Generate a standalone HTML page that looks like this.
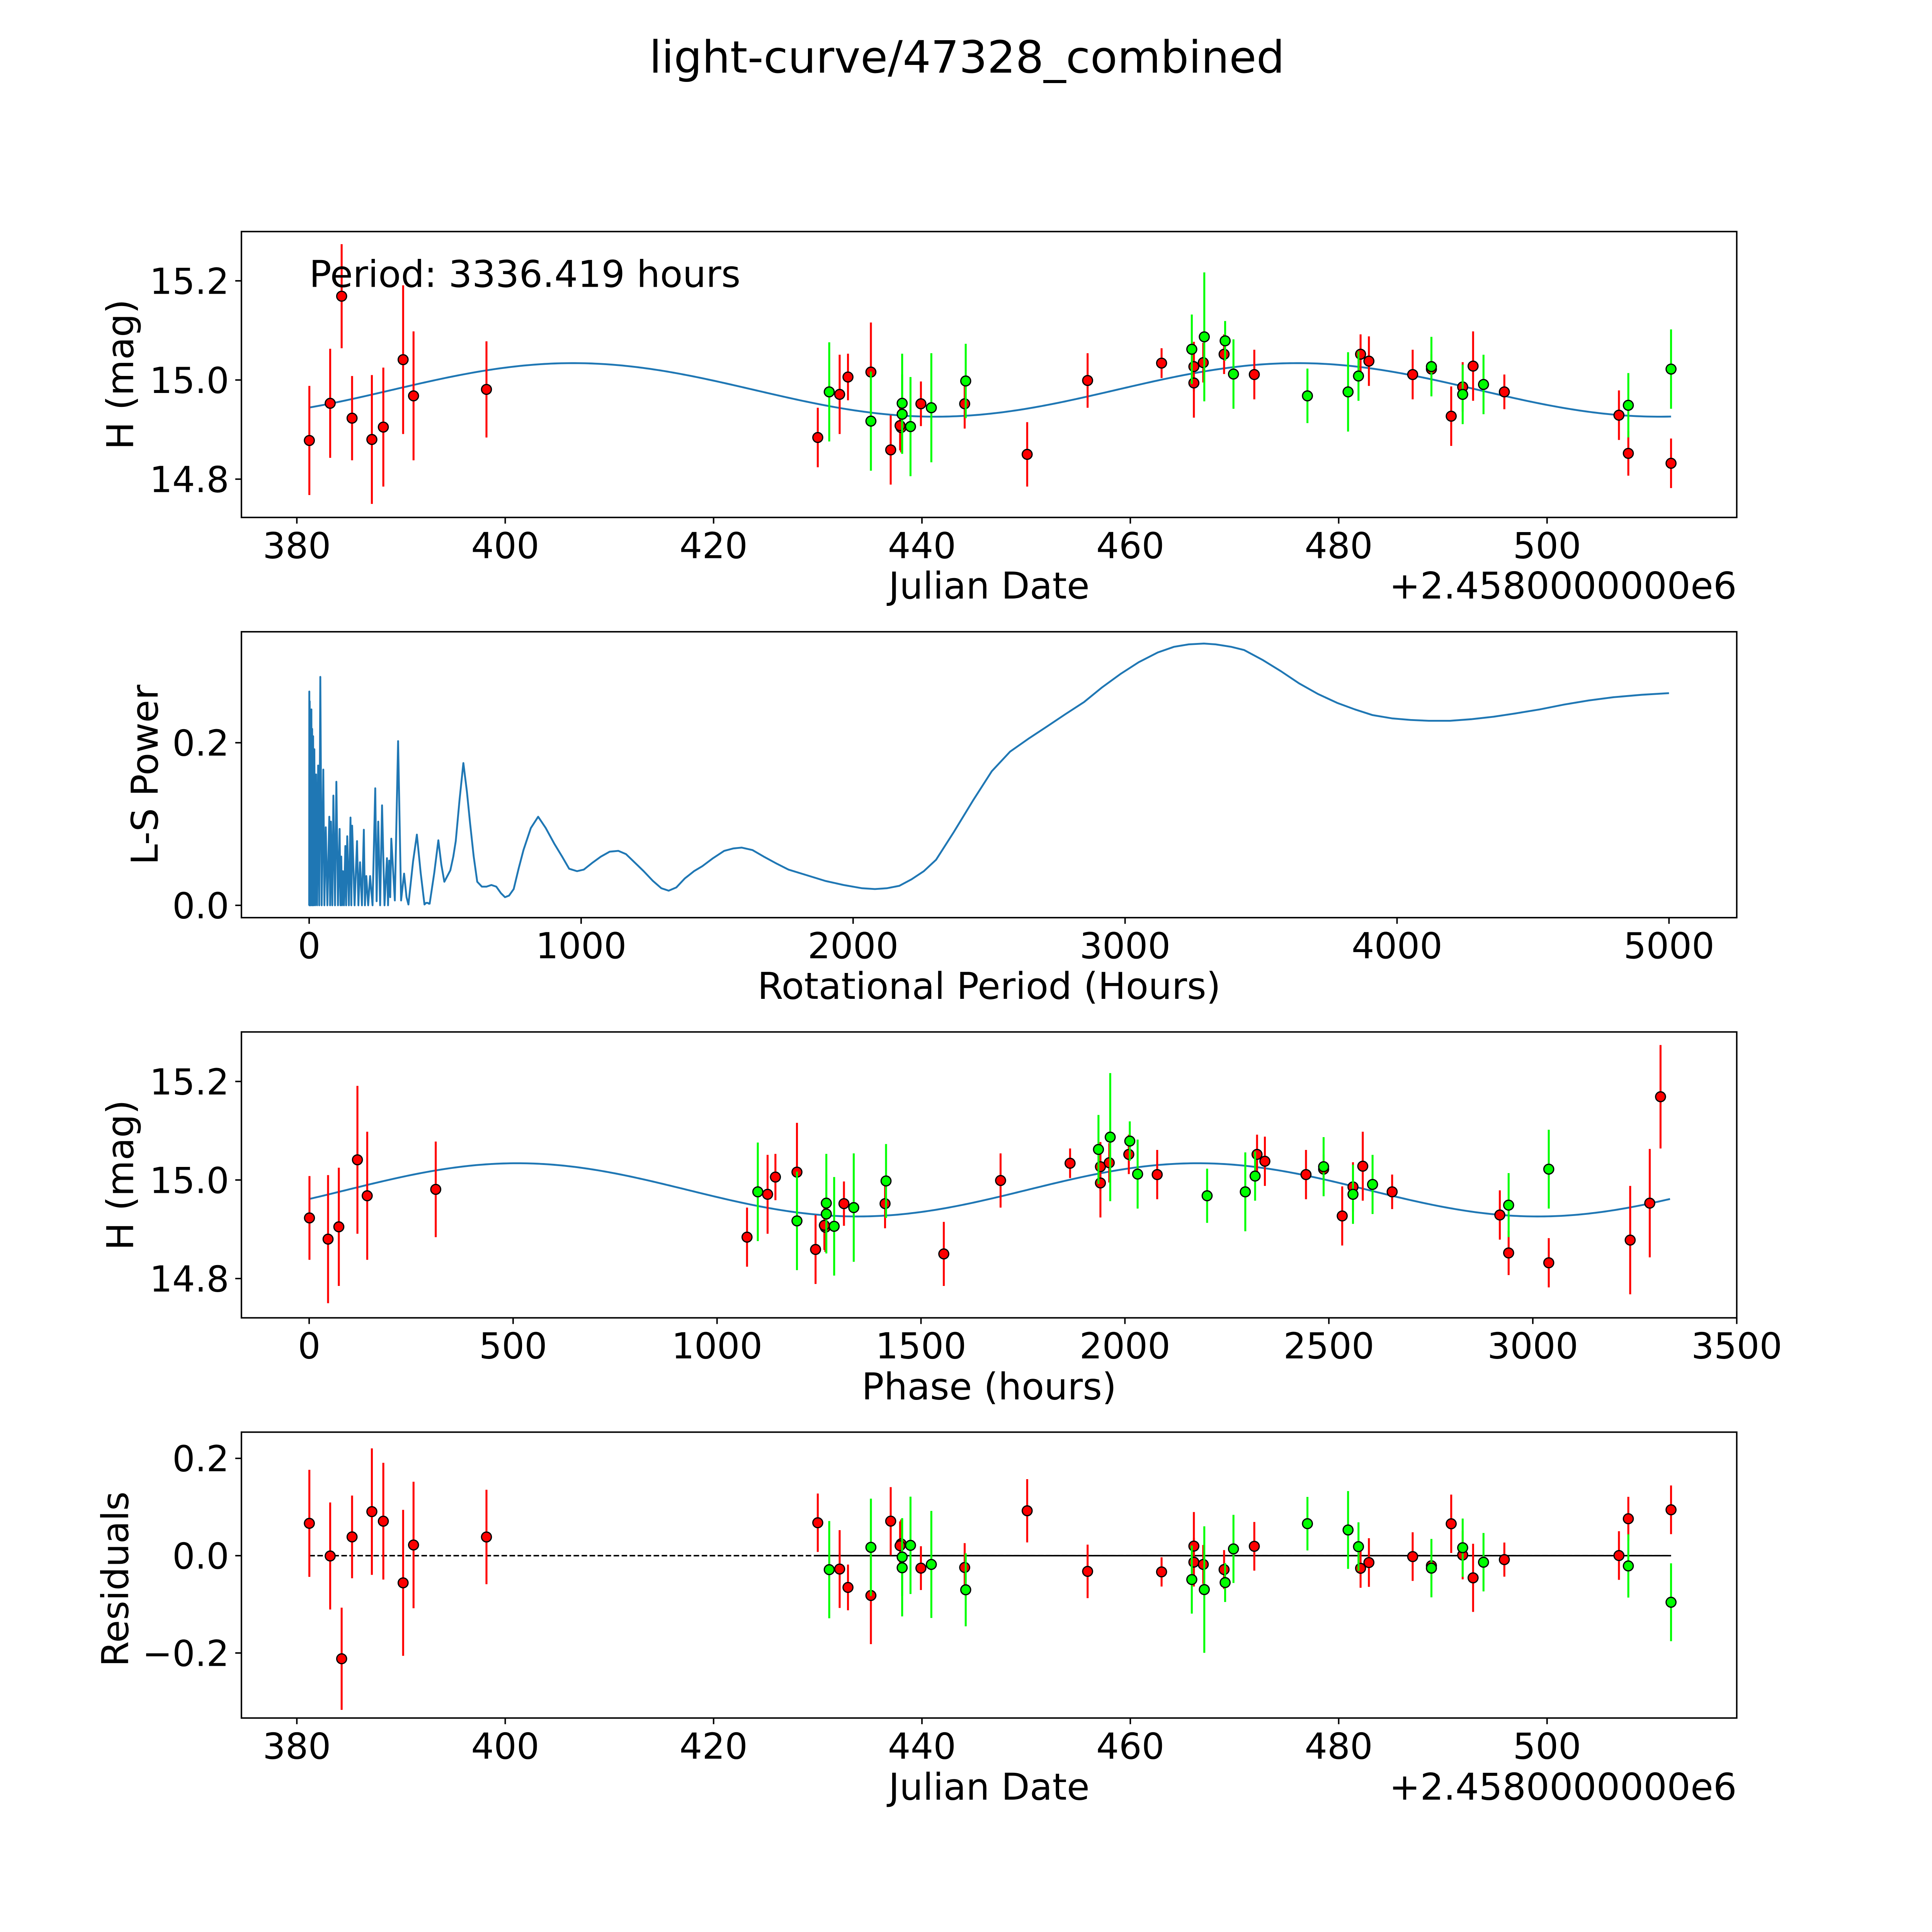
<!DOCTYPE html>
<html><head><meta charset="utf-8"><title>light-curve/47328_combined</title>
<style>
html,body{margin:0;padding:0;background:#fff;overflow:hidden;width:5400px;height:5400px;}
svg{display:block;}
text{font-family:"DejaVu Sans","Liberation Sans",sans-serif;fill:#000;}
</style></head>
<body>
<svg id="fig" xmlns="http://www.w3.org/2000/svg" width="5400" height="5400" viewBox="0 0 1694 1694">
<rect x="0" y="0" width="1694" height="1694" fill="#fff"/>
<text x="785" y="59" font-size="36" text-anchor="middle">light-curve/47328_combined</text>
</svg>
<script>
// ---- Data ----
const redJD  = [381.2,383.2,384.3,385.3,387.2,388.3,390.2,391.2,398.2,430.0,432.1,432.9,435.1,437.0,438.0,437.9,439.9,444.1,450.1,455.9,463.0,466.1,466.1,467.0,469.0,471.9,482.1,482.9,487.1,488.9,490.8,491.9,492.9,495.9,506.9,507.8,511.9];
const redMag = [14.878,14.953,15.169,14.923,14.880,14.905,15.041,14.968,14.981,14.884,14.971,15.006,15.016,14.859,14.904,14.908,14.952,14.952,14.850,14.999,15.034,15.027,14.994,15.035,15.052,15.011,15.052,15.038,15.011,15.022,14.927,14.986,15.028,14.976,14.929,14.852,14.832];
const redErr = [0.11,0.11,0.105,0.085,0.13,0.12,0.15,0.13,0.097,0.06,0.08,0.047,0.1,0.07,0.05,0.05,0.045,0.05,0.065,0.055,0.03,0.05,0.07,0.04,0.04,0.05,0.04,0.05,0.05,0.03,0.06,0.05,0.07,0.035,0.05,0.045,0.05];
const grnJD  = [431.1,435.1,438.1,438.1,438.9,440.9,444.2,465.9,467.1,469.1,469.9,477.0,480.9,481.9,488.9,491.9,493.9,507.8,511.9];
const grnMag = [14.976,14.917,14.953,14.931,14.906,14.944,14.998,15.062,15.087,15.079,15.012,14.968,14.976,15.008,15.027,14.971,14.991,14.949,15.022];
const grnErr = [0.1,0.1,0.1,0.08,0.1,0.11,0.075,0.07,0.13,0.04,0.07,0.055,0.08,0.05,0.06,0.06,0.06,0.065,0.08];
const periodHours = 3336.419;
const epochJD = 385.27;
const modelMean = 14.98;
const modelAmp = 0.054;
const modelPeakPhase = 510;
// Lomb-Scargle periodogram
const lsPeriod = [0,0.5,1,2,3,5,8.2,9.5,11,12.5,14.6,16.5,19,22,25.5,29,33,37,41,46,52,56,61,67,74,77,80,85,89,95,100,106,112,115,118,121,124,128,133,136,140,146,152,155,158,167,176,181,187,194,201,205,210,217,224,233,243,248,254,261,268,277,286,290,294,298,302,315,327,338,349,358,365,382,396,410,424,430,436,440,443,460,475,486,497,508,519,530,539,553,567,580,592,605,618,635,652,670,688,705,720,735,752,770,788,815,842,870,901,930,956,985,1010,1040,1073,1105,1137,1165,1196,1230,1264,1295,1322,1350,1381,1415,1445,1485,1526,1560,1590,1630,1671,1715,1762,1830,1898,1965,2033,2080,2124,2170,2215,2260,2305,2370,2441,2510,2577,2645,2713,2780,2849,2915,2985,3050,3120,3180,3234,3290,3333,3390,3438,3505,3573,3640,3709,3780,3845,3910,3981,4050,4117,4195,4275,4355,4434,4525,4615,4705,4796,4900,5000];
const lsPower  = [0.0,0.263,0.0,0.251,0.0,0.0,0.241,0.0,0.217,0.0,0.208,0.0,0.192,0.0,0.161,0.0,0.172,0.0,0.281,0.0,0.167,0.0,0.096,0.0,0.109,0.0,0.103,0.0,0.135,0.0,0.152,0.0,0.094,0.0,0.06,0.0,0.042,0.0,0.073,0.0,0.085,0.0,0.108,0.0,0.098,0.0,0.079,0.0,0.053,0.0,0.093,0.0,0.036,0.0,0.036,0.0,0.144,0.005,0.103,0.0,0.123,0.0,0.058,0.0,0.055,0.01,0.082,0.006,0.202,0.006,0.039,0.01,0.001,0.054,0.087,0.04,0.001,0.003,0.003,0.002,0.002,0.04,0.08,0.05,0.029,0.036,0.043,0.06,0.079,0.13,0.175,0.14,0.1,0.06,0.029,0.023,0.023,0.025,0.023,0.015,0.01,0.012,0.02,0.045,0.068,0.095,0.109,0.095,0.076,0.06,0.045,0.042,0.044,0.052,0.06,0.066,0.067,0.063,0.053,0.042,0.03,0.021,0.018,0.022,0.033,0.042,0.048,0.058,0.067,0.07,0.071,0.068,0.06,0.052,0.044,0.037,0.03,0.025,0.021,0.02,0.021,0.024,0.032,0.042,0.056,0.09,0.129,0.165,0.189,0.205,0.22,0.235,0.25,0.268,0.285,0.299,0.311,0.318,0.321,0.322,0.321,0.318,0.314,0.302,0.288,0.273,0.26,0.249,0.241,0.234,0.23,0.228,0.227,0.227,0.229,0.232,0.236,0.241,0.247,0.252,0.256,0.259,0.261];
// ticks
const jdTicks = [380,400,420,440,460,480,500];
const magTicks = [14.8,15.0,15.2];
const lsXTicks = [0,1000,2000,3000,4000,5000];
const lsYTicks = [0.0,0.2];
const phaseTicks = [0,500,1000,1500,2000,2500,3000,3500];
const resTicks = [-0.2,0.0,0.2];

// ---- helpers ----
const NS = "http://www.w3.org/2000/svg";
const svg = document.getElementById('fig');
function mk(tag, attrs, parent){
  const e = document.createElementNS(NS, tag);
  for (const k in attrs) e.setAttribute(k, attrs[k]);
  (parent||svg).appendChild(e);
  return e;
}
function lin(d0,d1,p0,p1){ return v => p0 + (v-d0)*(p1-p0)/(d1-d0); }
function model(ph){ return modelMean + modelAmp*Math.cos(4*Math.PI*(ph-modelPeakPhase)/periodHours); }
function phaseOf(jd){ let p = ((jd-epochJD)*24) % periodHours; if (p<0) p += periodHours; return p; }
function fmt(v,d){ return v<0 ? '\u2212'+Math.abs(v).toFixed(d) : v.toFixed(d); }

const L = 196, R = 1410;
const panels = [[188,420.1],[512.9,745],[837.8,1069.9],[1162.7,1394.8]];

function frame(i, name){
  const g = mk('g', {});
  
  
  return g;
}
function border(g,i){
  const [t,b] = panels[i];
  const r = mk('rect', {x:L,y:t,width:R-L,height:b-t,fill:'none',stroke:'#000','stroke-width':1.2}, g);
  
  
}
function xTicks(g,i,ticks,sx,dec){
  const b = panels[i][1];
  ticks.forEach(v=>{
    const x = sx(v);
    mk('line',{x1:x,y1:b,x2:x,y2:b+5,stroke:'#000','stroke-width':1.2},g);
    const tx = mk('text',{x:x,y:b+33,'font-size':29,'text-anchor':'middle'},g);
    tx.textContent = dec===undefined ? String(v) : fmt(v,dec);
    
    
  });
}
function yTicks(g,ticks,sy,dec){
  ticks.forEach(v=>{
    const y = sy(v);
    mk('line',{x1:L-5,y1:y,x2:L,y2:y,stroke:'#000','stroke-width':1.2},g);
    const tx = mk('text',{x:L-10,y:y+10.5,'font-size':29,'text-anchor':'end'},g);
    tx.textContent = fmt(v,dec);
    
    
  });
}
function label(g,x,y,txt,rot,name,anchor){
  const tx = mk('text',{x:x,y:y,'font-size':30,'text-anchor':anchor||'middle'},g);
  if (rot) tx.setAttribute('transform','rotate(-90 '+x+' '+y+')');
  tx.textContent = txt;
  
  
}
function points(g, xs, ys, es, color, sx, sy, name){
  xs.forEach((xv,k)=>{
    const x = sx(xv);
    const l = mk('line',{x1:x,y1:sy(ys[k]-es[k]),x2:x,y2:sy(ys[k]+es[k]),stroke:color,'stroke-width':1.6},g);
    
    
  });
  xs.forEach((xv,k)=>{
    const c = mk('circle',{cx:sx(xv),cy:sy(ys[k]),r:4,fill:color,stroke:'#000','stroke-width':1},g);
    
    
  });
}
function curve(g, xs, ys, sx, sy, extra){
  let d = '';
  xs.forEach((v,k)=>{ d += (k?'L':'M')+sx(v).toFixed(2)+' '+sy(ys[k]).toFixed(2); });
  const p = mk('path',Object.assign({d:d,fill:'none',stroke:'#1f77b4','stroke-width':1.5,'stroke-linejoin':'round'},extra||{}),g);
  return p;
}

const RED = '#ff0000', GRN = '#00ff00';

// ---- Panel 1: light curve ----
(function(){
  const i=0;
  const g = frame(i,'light-curve-panel');
  const sx = lin(380,500,241,1256);
  const sy = lin(15.0,15.2,308.5,228);
  const mx=[], my=[];
  for (let k=0;k<=400;k++){ const jd = redJD[0] + (grnJD[grnJD.length-1]-redJD[0])*k/400; mx.push(jd); my.push(model(phaseOf(jd))); }
  const c = curve(g,mx,my,sx,sy);
  
  
  points(g, redJD, redMag, redErr, RED, sx, sy, 'red-point');
  points(g, grnJD, grnMag, grnErr, GRN, sx, sy, 'green-point');
  border(g,i);
  xTicks(g,i,jdTicks,sx);
  yTicks(g,magTicks,sy,1);
  const pt = mk('text',{x:251,y:233,'font-size':30},g);
  pt.textContent = 'Period: 3336.419 hours';
  
  
  label(g,803,486,'Julian Date',false,'x-axis-title');
  label(g,R,486,'+2.4580000000e6',false,'x-offset-label','end');
  label(g,108,304,'H (mag)',true,'y-axis-title');
})();

// ---- Panel 2: periodogram ----
(function(){
  const i=1;
  const g = frame(i,'periodogram-panel');
  const sx = lin(0,5000,251,1355);
  const sy = lin(0,0.2,735,603);
  const c = curve(g, lsPeriod, lsPower, sx, sy, {'stroke-width':1.5});
  
  
  border(g,i);
  xTicks(g,i,lsXTicks,sx);
  yTicks(g,lsYTicks,sy,1);
  label(g,803,811,'Rotational Period (Hours)',false,'x-axis-title');
  label(g,128,629,'L-S Power',true,'y-axis-title');
})();

// ---- Panel 3: phase-folded ----
(function(){
  const i=2;
  const g = frame(i,'phase-panel');
  const sx = lin(0,3500,251,1410);
  const sy = lin(15.0,15.2,958,878);
  const mx=[], my=[];
  for (let k=0;k<=400;k++){ const p = periodHours*k/400; mx.push(p); my.push(model(p)); }
  const c = curve(g,mx,my,sx,sy);
  
  
  points(g, redJD.map(phaseOf), redMag, redErr, RED, sx, sy, 'red-phase-point');
  points(g, grnJD.map(phaseOf), grnMag, grnErr, GRN, sx, sy, 'green-phase-point');
  border(g,i);
  xTicks(g,i,phaseTicks,sx);
  yTicks(g,magTicks,sy,1);
  label(g,803,1136,'Phase (hours)',false,'x-axis-title');
  label(g,108,954,'H (mag)',true,'y-axis-title');
})();

// ---- Panel 4: residuals ----
(function(){
  const i=3;
  const g = frame(i,'residuals-panel');
  const sx = lin(380,500,241,1256);
  const sy = lin(0,0.2,1263,1184);
  const lo = redJD[0], hi = grnJD[grnJD.length-1];
  const dl = mk('line',{x1:sx(lo),y1:sy(0),x2:sx(hi),y2:sy(0),stroke:'#000','stroke-width':1.2,'stroke-dasharray':'4.5 2'},g);
  
  
  const sl = mk('line',{x1:sx(430),y1:sy(0),x2:sx(hi),y2:sy(0),stroke:'#000','stroke-width':1.2},g);
  
  
  const rr = redJD.map((jd,k)=>model(phaseOf(jd))-redMag[k]);
  const gr = grnJD.map((jd,k)=>model(phaseOf(jd))-grnMag[k]);
  points(g, redJD, rr, redErr, RED, sx, sy, 'red-residual');
  points(g, grnJD, gr, grnErr, GRN, sx, sy, 'green-residual');
  border(g,i);
  xTicks(g,i,jdTicks,sx);
  yTicks(g,resTicks,sy,1);
  label(g,803,1461,'Julian Date',false,'x-axis-title');
  label(g,R,1461,'+2.4580000000e6',false,'x-offset-label','end');
  label(g,104,1282,'Residuals',true,'y-axis-title');
})();
</script>
</body></html>
